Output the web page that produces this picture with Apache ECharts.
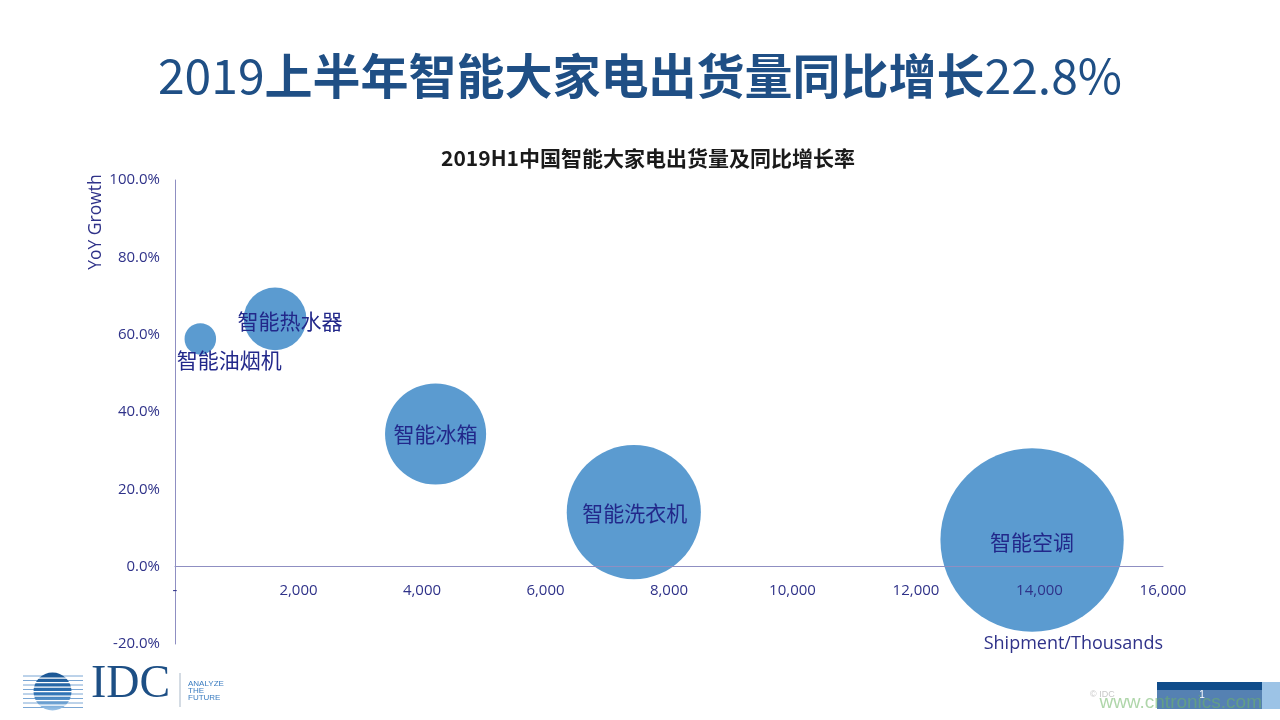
<!DOCTYPE html>
<html>
<head>
<meta charset="utf-8">
<script src="https://cdn.jsdelivr.net/npm/echarts@6/dist/echarts.min.js"></script>
<style>
html,body{margin:0;padding:0;background:#fff;}
#c{width:1280px;height:720px;}
</style>
</head>
<body>
<div id="c"></div>
<script>
// ---- data ----
const categories = ['智能油烟机', '智能热水器', '智能冰箱', '智能洗衣机', '智能空调'];
const shipments = [410, 1620, 4220, 7430, 13880];      // thousands
const growth = [58.9, 64.1, 34.3, 14.1, 6.9];           // YoY %
const bubbleSize = [410, 1620, 4220, 7430, 13880];      // bubble size value
const xTicks = { min: 0, max: 16000, interval: 2000 };
const yTicks = { min: -20, max: 100, interval: 20 };

// ---- styles ----
const labelOffsets = [[29, 21], [15, 2], [0, 0], [1, 1], [0, 2]];
const navy = '#22288a';
const axisText = '#2f3289';
const axisLineColor = '#8f8fc2';
const gridTop = 180, gridBottom = 76, gridHeight = 720 - gridTop - gridBottom;
const zeroOffset = gridHeight * (0 - yTicks.min) / (yTicks.max - yTicks.min);

const chart = echarts.init(document.getElementById('c'), null, { renderer: 'canvas' });

const data = categories.map((name, i) => ({
  name: name,
  value: [shipments[i], growth[i], bubbleSize[i]],
  label: { offset: labelOffsets[i] }
}));

const option = {
  backgroundColor: '#ffffff',
  animation: false,
  grid: { left: 175, right: 117, top: gridTop, bottom: gridBottom, containLabel: false },
  xAxis: {
    type: 'value',
    position: 'bottom',
    offset: -zeroOffset,
    min: xTicks.min, max: xTicks.max, interval: xTicks.interval,
    z: 5,
    axisLine: { show: true, onZero: false, lineStyle: { color: axisLineColor, width: 1 } },
    axisTick: { show: false },
    splitLine: { show: false },
    axisLabel: {
      margin: 17,
      color: axisText,
      fontSize: 15,
      fontFamily: 'Open Sans',
      formatter: v => v === 0 ? '-' : v.toLocaleString('en-US')
    }
  },
  yAxis: {
    type: 'value',
    min: yTicks.min, max: yTicks.max, interval: yTicks.interval,
    axisLine: { show: true, onZero: false, lineStyle: { color: axisLineColor, width: 1 } },
    axisTick: { show: false },
    splitLine: { show: false },
    axisLabel: {
      margin: 15,
      color: axisText,
      fontSize: 15,
      fontFamily: 'Open Sans',
      formatter: v => v.toFixed(1) + '%'
    }
  },
  series: [{
    type: 'scatter',
    data: data,
    symbol: 'circle',
    symbolSize: v => Math.sqrt(v[2]) * 1.556,
    itemStyle: { color: '#5b9bd0', opacity: 1 },
    label: {
      show: true,
      position: 'inside',
      formatter: p => p.name,
      color: navy,
      fontSize: 21,
      fontFamily: 'Noto Sans CJK SC'
    },
    emphasis: { disabled: true }
  }],
  graphic: [
    // main title
    {
      type: 'text', left: 'center', top: 52,
      style: {
        text: '{a|2019}{b|上半年智能大家电出货量同比增长}{a|22.8%}',
        rich: {
          a: { fontSize: 48, fontFamily: 'Noto Sans CJK SC', fontWeight: 'normal', fill: '#1f4f85' },
          b: { fontSize: 48, fontFamily: 'Noto Sans CJK SC', fontWeight: 'bold', fill: '#1f4f85' }
        }
      }
    },
    // chart subtitle
    {
      type: 'text', x: 648, y: 158,
      style: {
        text: '2019H1中国智能大家电出货量及同比增长率',
        font: 'bold 21px "Noto Sans CJK SC"',
        fill: '#1a1a1a', textAlign: 'center', textVerticalAlign: 'middle'
      }
    },
    // y axis name
    {
      type: 'text', x: 96, y: 222, rotation: Math.PI / 2,
      style: {
        text: 'YoY Growth', font: '17.5px "Open Sans"', fill: axisText,
        textAlign: 'center', textVerticalAlign: 'middle'
      }
    },
    // x axis name
    {
      type: 'text', x: 1163, y: 644,
      style: {
        text: 'Shipment/Thousands', font: '18px "Open Sans"', fill: axisText,
        textAlign: 'right', textVerticalAlign: 'middle'
      }
    },
    // IDC logo stripes
    ...[676, 680.5, 685, 689.5, 694, 698.5, 703, 707.5].map(y => ({
      type: 'line', shape: { x1: 23, y1: y, x2: 83, y2: y },
      style: { stroke: '#7aa6d4', lineWidth: 1 }
    })),
    {
      type: 'circle', shape: { cx: 52.5, cy: 691.5, r: 19 },
      style: {
        fill: new echarts.graphic.LinearGradient(0, 0, 0, 1, [
          { offset: 0, color: '#1a5592' }, { offset: 0.55, color: '#2f73b5' }, { offset: 1, color: '#9cc4e8' }
        ])
      }
    },
    ...[678.2, 682.7, 687.2, 691.7, 696.2, 700.7, 705.2].map(y => ({
      type: 'line', shape: { x1: 30, y1: y, x2: 75, y2: y },
      style: { stroke: '#ffffff', lineWidth: 1.2 }
    })),
    {
      type: 'text', x: 91, y: 708,
      style: { text: 'IDC', font: '46px "Liberation Serif"', fill: '#1d4f85', textVerticalAlign: 'bottom' }
    },
    { type: 'line', shape: { x1: 180, y1: 673, x2: 180, y2: 707 }, style: { stroke: '#a9b8c8', lineWidth: 1 } },
    {
      type: 'text', x: 188, y: 680,
      style: { text: 'ANALYZE\nTHE\nFUTURE', font: '8px "Liberation Sans"', lineHeight: 7, fill: '#3a7cc0' }
    },
    // bottom right
    {
      type: 'text', x: 1090, y: 695,
      style: { text: '© IDC', font: '9px "Liberation Sans"', fill: '#c8c8c8', textVerticalAlign: 'middle' }
    },
    { type: 'rect', shape: { x: 1157, y: 682, width: 105, height: 8 }, style: { fill: '#0f4c8a' } },
    { type: 'rect', shape: { x: 1157, y: 690, width: 105, height: 19 }, style: { fill: '#5581b2' } },
    { type: 'rect', shape: { x: 1262, y: 682, width: 18, height: 27 }, style: { fill: '#9cc3e6' } },
    {
      type: 'text', x: 1202, y: 695,
      style: { text: '1', font: '10px "Liberation Sans"', fill: '#ffffff', textAlign: 'center', textVerticalAlign: 'middle' }
    },
    {
      type: 'text', x: 1262, y: 703,
      style: {
        text: 'www.cntronics.com', font: '19px "Liberation Sans"', fill: 'rgba(110,180,100,0.55)',
        textAlign: 'right', textVerticalAlign: 'middle'
      }
    }
  ]
};

chart.setOption(option);
</script>
</body>
</html>
